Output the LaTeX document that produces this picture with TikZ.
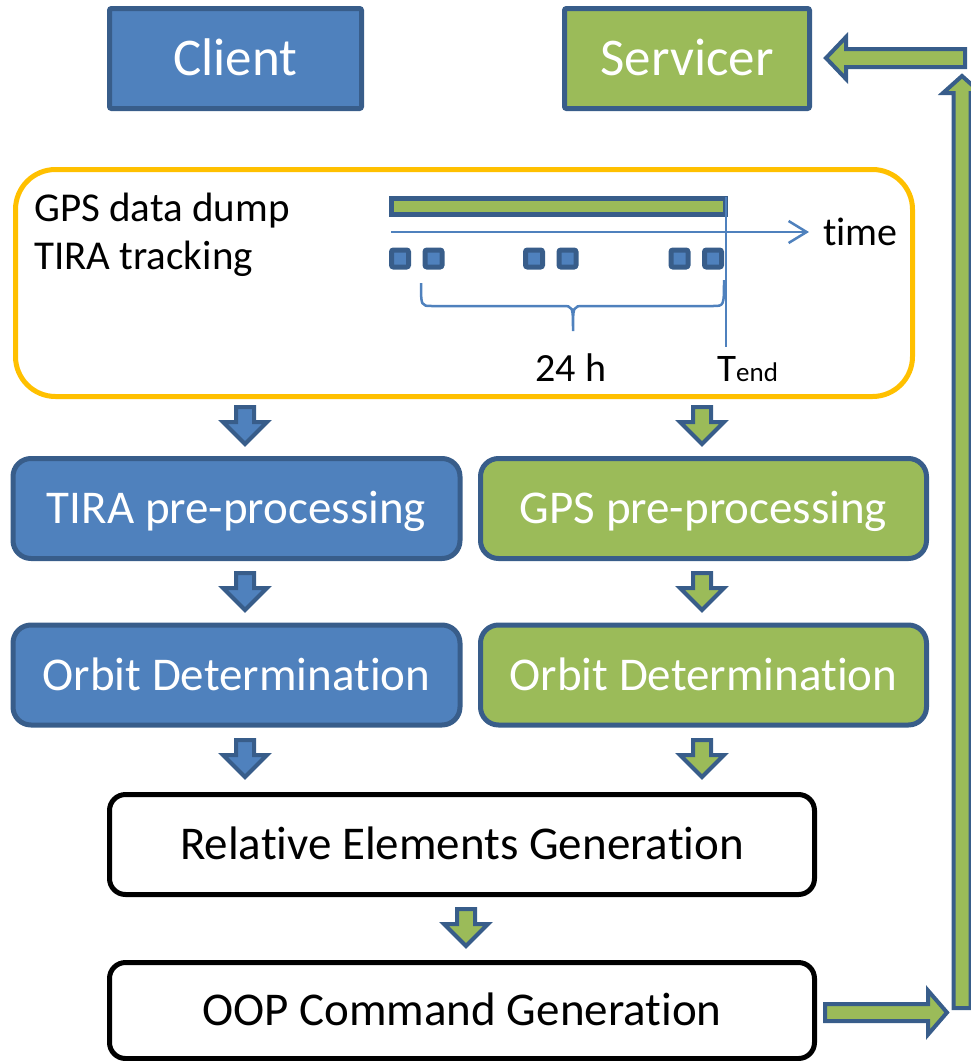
\documentclass[tikz,border=0pt]{standalone}
\usepackage{fontspec}
\setmainfont{Carlito}[Ligatures=NoCommon]
\usetikzlibrary{arrows.meta,calc}
\definecolor{obl}{HTML}{4F81BD}
\definecolor{odk}{HTML}{385D8A}
\definecolor{ogr}{HTML}{9BBB59}
\definecolor{oye}{HTML}{FFC000}
\begin{document}
\begin{tikzpicture}[x=1pt,y=-1pt,
  hdr/.style={draw=odk, line width=5pt, rounded corners=2pt, minimum height=100pt,
    text=white, font=\fontsize{53}{60}\selectfont, text height=33pt, text depth=0pt, inner sep=0pt},
  proc/.style={draw=odk, line width=5pt, rounded corners=18pt, minimum width=447pt, minimum height=100pt,
    text=white, font=\fontsize{47}{56}\selectfont, text height=30pt, text depth=0pt, inner sep=0pt},
  wbox/.style={draw=black, line width=5pt, rounded corners=16pt, minimum width=705pt, fill=white,
    font=\fontsize{47}{56}\selectfont, text height=30pt, text depth=0pt, inner sep=0pt},
  lbl/.style={inner sep=0pt, font=\fontsize{41}{48}\selectfont},
  sq/.style={draw=odk, fill=obl, line width=5pt, rounded corners=2pt, minimum size=17pt, inner sep=0pt},
  thin/.style={draw=obl, line width=2.5pt},
  blockline/.style={draw=odk, line width=4pt, line join=miter},
  pics/dnarrow/.style={code={\draw[blockline,fill=#1] (-9,-19) -- (9,-19) -- (9,-4) -- (22,-4) -- (0,18) -- (-22,-4) -- (-9,-4) -- cycle;}}
]
\useasboundingbox (0,0) rectangle (971,1061);
\clip (0,0) rectangle (971,1061);

% header boxes
\node[hdr, fill=obl, minimum width=252pt] (client) at (235.5,58.5) {Client};
\node[hdr, fill=ogr, minimum width=245pt] (serv) at (687,58.5) {Servicer};

% yellow data box
\node[draw=oye, line width=5pt, rounded corners=40pt, minimum width=897pt, minimum height=227pt, inner sep=0pt] (data) at (464,283) {};
\node[lbl, anchor=base west] (gps) at (34,221) {GPS data dump};
\node[lbl, anchor=base west] (tira) at (34,269) {TIRA tracking};

\node[draw=odk, fill=ogr, line width=5pt, minimum width=334pt, minimum height=16.5pt, inner sep=0pt] (bar) at (558.5,206.25) {};
\coordinate (t0) at (391,232);
\coordinate (t1) at (809,232);
\draw[thin, -{Straight Barb[length=18pt,width=22pt,line width=2.5pt]}] (t0) -- (t1);
\node[font=\fontsize{40}{48}\selectfont, inner sep=0pt, anchor=base west] (time) at (823,245) {time};

\node[sq] (s1) at (400,258.5) {};
\node[sq] (s2) at (433.5,258.5) {};
\node[sq] (s3) at (534,258.5) {};
\node[sq] (s4) at (567.5,258.5) {};
\node[sq] (s5) at (679.5,258.5) {};
\node[sq] (s6) at (713,258.5) {};

\coordinate (tend) at (726,347);
\draw[thin] (726,197) -- (tend);
\draw[thin] (421,283) .. controls (421,306) .. (432,306) -- (562,306) .. controls (573,306) .. (573,331)
  .. controls (573,306) .. (584,306) -- (713,306) .. controls (724,306) .. (724,280);
\node[font=\fontsize{40}{48}\selectfont, inner sep=0pt, anchor=base] (h24) at (571,381) {24 h};
\node[font=\fontsize{39}{48}\selectfont, inner sep=0pt, anchor=base west] (tendl) at (717,381) {T{\fontsize{27}{30}\selectfont end}};

% processing boxes
\node[proc, fill=obl] (tpre) at (236.5,508.5) {TIRA pre-processing};
\node[proc, fill=ogr, minimum width=446pt] (gpre) at (703.5,508.5) {GPS pre-processing};
\node[proc, fill=obl] (tod) at (236.5,675) {Orbit Determination};
\node[proc, fill=ogr, minimum width=446pt] (god) at (703.5,675) {Orbit Determination};
\node[wbox, minimum height=100pt] (rel) at (462,844.5) {Relative Elements Generation};
\node[wbox, minimum height=96pt] (oop) at (462,1010.5) {OOP Command Generation};

% block arrows between boxes
\pic at (245,426) {dnarrow=obl};
\pic at (702,426) {dnarrow=ogr};
\pic at (245,592) {dnarrow=obl};
\pic at (702,592) {dnarrow=ogr};
\pic at (245,759) {dnarrow=obl};
\pic at (702,759) {dnarrow=ogr};
\pic at (466,928) {dnarrow=ogr};

% feedback arrows to servicer
\draw[blockline, fill=ogr] (825,1004) -- (928,1004) -- (928,990.5) -- (947,1012.5) -- (928,1034.5) -- (928,1021) -- (825,1021) -- cycle;
\draw[blockline, fill=ogr] (953.5,1008) -- (953.5,93) -- (943,93) -- (962,76) -- (981,93) -- (970.5,93) -- (970.5,1008) -- cycle;
\draw[blockline, fill=ogr] (965,49) -- (846,49) -- (846,37) -- (826,58) -- (846,79) -- (846,67) -- (965,67) -- cycle;
\end{tikzpicture}
\end{document}
